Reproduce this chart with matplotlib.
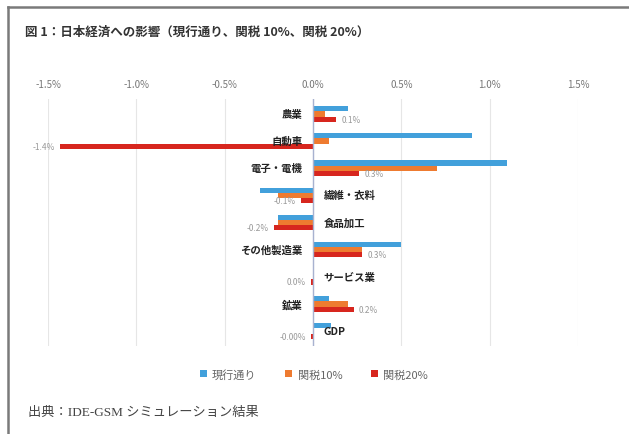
#!/usr/bin/env python3
# Horizontal grouped bar chart: impact on Japanese economy by sector (3 scenarios).

import numpy as np
import matplotlib
matplotlib.use('Agg')
import matplotlib.pyplot as plt
from matplotlib.lines import Line2D

plt.rcParams['font.family'] = ['Noto Sans CJK JP', 'DejaVu Sans']

categories   = ['農業', '自動車', '電子・電機', '繊維・衣料', '食品加工',
                'その他製造業', 'サービス業', '鉱業', 'GDP']
current      = [0.20, 0.90, 1.10, -0.30, -0.20, 0.50, 0.00, 0.09, 0.10]
tariff10     = [0.07, 0.09, 0.70, -0.20, -0.20, 0.28, 0.00, 0.20, 0.00]
tariff20     = [0.13, -1.43, 0.26, -0.07, -0.22, 0.28, -0.01, 0.23, -0.01]
red_labels   = ['0.1%', '-1.4%', '0.3%', '-0.1%', '-0.2%', '0.3%', '0.0%', '0.2%', '-0.00%']
label_side   = ['left', 'left', 'left', 'right', 'right', 'left', 'right', 'left', 'right']
series_names = ['現行通り', '関税10%', '関税20%']
xticks       = [-1.5, -1.0, -0.5, 0.0, 0.5, 1.0, 1.5]

colors = ['#42A0DB', '#EE7B30', '#D7261E']

fig = plt.figure(figsize=(6.29, 4.35), dpi=100)
W, H = 629, 435
ax = fig.add_axes([48 / W, 1 - 347 / H, (578 - 48) / W, (347 - 100) / H])

y = np.arange(len(categories))
h = 0.19
for i, (vals, c, name) in enumerate(zip([current, tariff10, tariff20], colors, series_names)):
    ax.barh(y + (i - 1) * h, vals, height=h, color=c, label=name, zorder=3)

# data labels for the 20% series
for yi, v, lab in zip(y, tariff20, red_labels):
    if v >= 0:
        ax.text(v + 0.03, yi + h, lab, ha='left', va='center', fontsize=6, color='#999999')
    else:
        ax.text(v - 0.03, yi + h, lab, ha='right', va='center', fontsize=6, color='#999999')

# category labels next to the zero axis
for yi, cat, side in zip(y, categories, label_side):
    if side == 'left':
        ax.text(-0.06, yi, cat, ha='right', va='center', fontsize=7.5, fontweight='bold', color='#222222')
    else:
        ax.text(0.06, yi, cat, ha='left', va='center', fontsize=7.5, fontweight='bold', color='#222222')

ax.set_xlim(-1.5, 1.5)
ax.set_ylim(len(categories) - 0.45, -0.55)
ax.axvline(0, color='#A8B2D0', linewidth=1.0, zorder=4)

ax.xaxis.tick_top()
ax.set_xticks(xticks)
ax.set_xticklabels([f'{t:.1f}%' for t in xticks], fontsize=7, color='#777777')
ax.tick_params(axis='x', length=0, pad=7)
ax.set_yticks([])
ax.grid(axis='x', color='#E6E6E6', linewidth=0.8, zorder=0)
for s in ax.spines.values():
    s.set_visible(False)

ax.legend(loc='center', bbox_to_anchor=(314 / W, 1 - 375 / H), bbox_transform=fig.transFigure,
          ncol=3, frameon=False, fontsize=8, handlelength=0.6, handleheight=0.6,
          handletextpad=0.5, columnspacing=2.6, labelcolor='#666666')

fig.text(25 / W, 1 - 32 / H, '図 1：日本経済への影響（現行通り、関税 10%、関税 20%）',
         ha='left', va='center', fontsize=9, fontweight='bold', color='#333333')
fig.text(28 / W, 1 - 413 / H, '出典：IDE-GSM シミュレーション結果',
         ha='left', va='center', fontsize=9.5, color='#444444',
         family=['Liberation Serif', 'Noto Sans CJK JP'])

# outer frame (top and left edges visible in the crop)
fig.add_artist(Line2D([8 / W, 1.0], [1 - 8 / H, 1 - 8 / H], transform=fig.transFigure,
                      color='#7A7A7A', linewidth=1.8))
fig.add_artist(Line2D([8 / W, 8 / W], [0.0, 1 - 8 / H], transform=fig.transFigure,
                      color='#7A7A7A', linewidth=1.8))

fig.savefig('out.png', dpi=100)
plt.close(fig)
